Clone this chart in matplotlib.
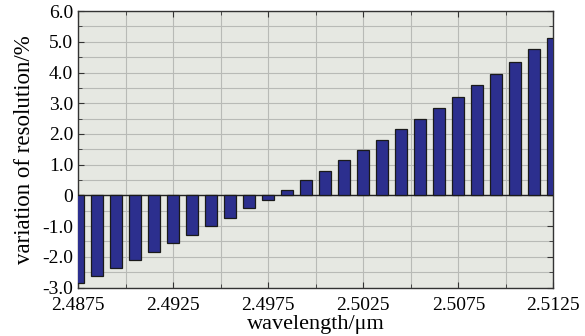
import numpy as np
import matplotlib.pyplot as plt
from matplotlib.ticker import MultipleLocator, FixedLocator, FixedFormatter

# wavelength (um) and variation of resolution (%)
wavelengths = [2.4875 + 0.001 * i for i in range(26)]
variation = [-2.84, -2.63, -2.37, -2.10, -1.83, -1.55, -1.28, -1.00, -0.73,
             -0.42, -0.14, 0.19, 0.49, 0.80, 1.14, 1.47, 1.80, 2.15, 2.50,
             2.86, 3.21, 3.58, 3.96, 4.35, 4.75, 5.14]

x_ticks = [2.4875, 2.4925, 2.4975, 2.5025, 2.5075, 2.5125]
x_labels = ["2.4875", "2.4925", "2.4975", "2.5025", "2.5075", "2.5125"]
y_ticks = [-3, -2, -1, 0, 1, 2, 3, 4, 5, 6]
y_labels = ["-3.0", "-2.0", "-1.0", "0", "1.0", "2.0", "3.0", "4.0", "5.0", "6.0"]

plt.rcParams['font.family'] = ['Liberation Serif', 'DejaVu Serif']

fig = plt.figure(figsize=(5.85, 3.36), dpi=100)
ax = fig.add_axes([0.1333, 0.1443, 0.8127, 0.8227])
ax.set_facecolor("#e6e8e2")

ax.bar(wavelengths, variation, width=0.00064, color="#2c2f8e",
       edgecolor="#1a1a1a", linewidth=0.9, zorder=3)

ax.set_xlim(2.4875, 2.5125)
ax.set_ylim(-3, 6)

ax.xaxis.set_major_locator(FixedLocator(x_ticks))
ax.xaxis.set_major_formatter(FixedFormatter(x_labels))
ax.xaxis.set_minor_locator(MultipleLocator(0.0025))
ax.yaxis.set_major_locator(FixedLocator(y_ticks))
ax.yaxis.set_major_formatter(FixedFormatter(y_labels))
ax.yaxis.set_minor_locator(MultipleLocator(0.5))

ax.grid(True, which="both", color="#b8bab6", linewidth=0.8, zorder=0)
ax.axhline(0, color="#222222", linewidth=1.0, zorder=2)

ax.tick_params(which="both", direction="in", top=True, right=True,
               labelsize=14, color="#333333")
ax.tick_params(axis="x", which="major", length=4, pad=7)
ax.tick_params(axis="y", which="major", length=4, pad=3.5)
ax.tick_params(which="minor", length=3)

for s in ax.spines.values():
    s.set_color("#333333")
    s.set_linewidth(1.0)

ax.set_xlabel("wavelength/μm", fontsize=16, labelpad=0.5)
ax.set_ylabel("variation of resolution/%", fontsize=16.5, labelpad=5)

fig.savefig("out.png", dpi=100)
